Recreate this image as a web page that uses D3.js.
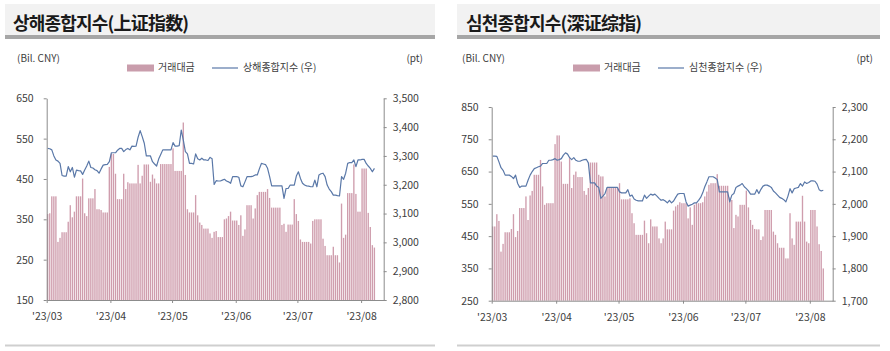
<!DOCTYPE html>
<html>
<head>
<meta charset="utf-8">
<script src="https://cdn.jsdelivr.net/npm/d3@7"></script>
<style>
    body { margin: 0; background: #fff; }
    svg text { font-family: "Noto Sans CJK KR", "Noto Sans", sans-serif; fill: #404040; }
</style>
</head>
<body>
<svg id="chart" width="890" height="351"></svg>
<script>
// daily series from 2023-03-01 (calendar days, non-trading days carry the previous value)
var startDate = new Date(Date.UTC(2023, 2, 1));
var endDate = new Date(Date.UTC(2023, 7, 12));
var monthTicks = [
    new Date(Date.UTC(2023, 2, 1)), new Date(Date.UTC(2023, 3, 1)), new Date(Date.UTC(2023, 4, 1)),
    new Date(Date.UTC(2023, 5, 1)), new Date(Date.UTC(2023, 6, 1)), new Date(Date.UTC(2023, 7, 1))
];

// Shanghai turnover (Bil. CNY)
var shVolume = [
    363, 365, 407, 407, 407, 294, 304, 318, 318, 318,
    344, 385, 355, 369, 407, 407, 407, 451, 365, 358,
    402, 402, 402, 425, 375, 375, 373, 367, 367, 367,
    480, 512, 512, 463, 400, 400, 400, 463, 425, 442,
    439, 439, 439, 439, 485, 439, 458, 486, 486, 486,
    443, 461, 451, 439, 439, 487, 487, 487, 487, 487,
    487, 526, 470, 470, 470, 470, 590, 460, 375, 367,
    367, 367, 410, 360, 342, 336, 327, 327, 327, 315,
    304, 319, 321, 306, 306, 306, 350, 352, 358, 369,
    347, 347, 347, 336, 360, 309, 325, 385, 385, 385,
    352, 377, 410, 418, 418, 418, 418, 425, 403, 379,
    379, 379, 379, 379, 336, 339, 319, 337, 337, 337,
    400, 363, 346, 300, 294, 294, 294, 294, 290, 346,
    350, 350, 350, 350, 302, 284, 261, 261, 261, 282,
    261, 261, 243, 389, 304, 312, 415, 415, 415, 486,
    413, 369, 369, 476, 476, 476, 366, 331, 286, 280
];
// Shanghai composite (pt)
var shIndex = [
    3326, 3325, 3321, 3300, 3286, 3282, 3274, 3232, 3230, 3230,
    3263, 3245, 3260, 3226, 3251, 3249, 3248, 3236, 3251, 3265,
    3282, 3260, 3258, 3252, 3249, 3240, 3255, 3268, 3270, 3271,
    3280, 3311, 3311, 3311, 3320, 3326, 3326, 3315, 3322, 3326,
    3321, 3334, 3333, 3334, 3365, 3388, 3367, 3344, 3300, 3300,
    3300, 3280, 3272, 3265, 3289, 3305, 3321, 3321, 3321, 3321,
    3321, 3346, 3334, 3334, 3336, 3390, 3355, 3315, 3307, 3274,
    3274, 3272, 3307, 3290, 3286, 3292, 3286, 3286, 3284, 3295,
    3290, 3201, 3214, 3213, 3213, 3216, 3219, 3213, 3210, 3205,
    3228, 3228, 3228, 3226, 3196, 3193, 3210, 3228, 3228, 3228,
    3230, 3234, 3234, 3255, 3274, 3272, 3270, 3257, 3228, 3196,
    3196, 3196, 3196, 3196, 3196, 3153, 3187, 3187, 3199, 3199,
    3199, 3230, 3245, 3222, 3205, 3199, 3196, 3195, 3193, 3193,
    3216, 3193, 3234, 3238, 3240, 3228, 3199, 3185, 3176, 3164,
    3164, 3162, 3161, 3228, 3219, 3240, 3274, 3277, 3277, 3286,
    3263, 3286, 3286, 3288, 3288, 3274, 3265, 3257, 3245, 3257
];
// Shenzhen turnover (Bil. CNY)
var szVolume = [
    480, 480, 518, 497, 402, 426, 462, 462, 462, 472,
    518, 447, 466, 537, 537, 537, 573, 500, 576, 590,
    640, 640, 640, 686, 604, 547, 552, 552, 552, 552,
    735, 762, 762, 681, 612, 612, 612, 692, 599, 640,
    650, 633, 633, 633, 590, 578, 599, 678, 678, 678,
    678, 640, 635, 635, 573, 599, 599, 599, 599, 599,
    599, 614, 564, 564, 564, 564, 567, 521, 490, 454,
    454, 454, 454, 498, 459, 428, 502, 480, 480, 480,
    443, 428, 443, 495, 471, 471, 471, 529, 542, 547,
    555, 552, 552, 552, 505, 539, 485, 547, 552, 552,
    552, 555, 573, 588, 609, 614, 614, 614, 642, 606,
    606, 606, 606, 606, 570, 562, 475, 516, 511, 547,
    547, 547, 591, 539, 500, 485, 472, 471, 471, 438,
    449, 531, 531, 531, 531, 464, 454, 428, 414, 414,
    414, 381, 381, 521, 443, 423, 495, 495, 495, 575,
    495, 433, 428, 531, 531, 531, 480, 425, 404, 350
];
// Shenzhen composite (pt)
var szIndex = [
    2148, 2148, 2147, 2130, 2112, 2104, 2089, 2089, 2089, 2085,
    2078, 2089, 2063, 2051, 2055, 2055, 2055, 2073, 2089, 2100,
    2109, 2112, 2115, 2117, 2125, 2125, 2125, 2135, 2135, 2137,
    2140, 2135, 2137, 2140, 2151, 2158, 2154, 2143, 2137, 2143,
    2135, 2132, 2132, 2135, 2137, 2138, 2127, 2065, 2065, 2065,
    2055, 2051, 2017, 2024, 2032, 2051, 2051, 2051, 2051, 2051,
    2051, 2037, 2034, 2034, 2034, 2044, 2024, 2027, 2015, 2011,
    2009, 2009, 2009, 2027, 2017, 2024, 2030, 2027, 2030, 2024,
    2017, 2011, 2013, 2009, 2003, 2011, 2003, 2009, 2020, 2030,
    2032, 2032, 2032, 2006, 1993, 1996, 1999, 2003, 2003, 2011,
    2020, 2034, 2053, 2068, 2084, 2084, 2084, 2080, 2075, 2037,
    2037, 2037, 2037, 2037, 2006, 2027, 2032, 2051, 2055, 2058,
    2063, 2053, 2047, 2040, 2030, 2030, 2030, 2044, 2032, 2045,
    2055, 2058, 2058, 2055, 2051, 2040, 2034, 2027, 2020, 2017,
    2013, 2006, 2024, 2047, 2034, 2047, 2049, 2051, 2063, 2055,
    2068, 2063, 2066, 2071, 2071, 2070, 2061, 2044, 2040, 2042
];

var shVolumeTicks = [150, 250, 350, 450, 550, 650];
var shIndexTicks = [2800, 2900, 3000, 3100, 3200, 3300, 3400, 3500];
var szVolumeTicks = [250, 350, 450, 550, 650, 750, 850];
var szIndexTicks = [1700, 1800, 1900, 2000, 2100, 2200, 2300];

var barColor = "#cf9dad",
    legendBarColor = "#c99dac",
    lineColor = "#5a78a8",
    axisColor = "#8c8c8c";

var svg = d3.select("#chart");
svg.append("rect").attr("width", 890).attr("height", 351).attr("fill", "#fff");

function drawPanel(cfg) {
    var g = svg.append("g");

    // header band with title
    g.append("rect")
        .attr("x", cfg.bandX0).attr("y", 4)
        .attr("width", cfg.bandX1 - cfg.bandX0).attr("height", 31)
        .attr("fill", "#f2f2f2");
    g.append("rect")
        .attr("x", cfg.bandX0).attr("y", 35)
        .attr("width", cfg.bandX1 - cfg.bandX0).attr("height", 4)
        .attr("fill", "#a6a6a6");
    g.append("text")
        .attr("x", cfg.titleX).attr("y", 30)
        .attr("font-size", "18px").attr("font-weight", "bold")
        .attr("letter-spacing", "-0.8px")
        .style("fill", "#1a1a1a")
        .text(cfg.title);

    // bottom rule
    g.append("rect")
        .attr("x", cfg.bandX0).attr("y", 344.5)
        .attr("width", cfg.bandX1 - cfg.bandX0).attr("height", 2)
        .attr("fill", "#cfcfcf");

    // units
    g.append("text").attr("x", cfg.unitLeftX).attr("y", 59)
        .attr("font-size", "10px").attr("dominant-baseline", "middle")
        .text("(Bil. CNY)");
    g.append("text").attr("x", cfg.unitRightX).attr("y", 59)
        .attr("font-size", "10px").attr("dominant-baseline", "middle")
        .attr("text-anchor", "end")
        .text("(pt)");

    // legend
    g.append("rect")
        .attr("x", cfg.legendX).attr("y", 64.5)
        .attr("width", 27).attr("height", 7)
        .attr("fill", legendBarColor);
    g.append("text").attr("x", cfg.legendX + 31).attr("y", 68.5)
        .attr("font-size", "10px").attr("dominant-baseline", "middle")
        .text("거래대금");
    g.append("line")
        .attr("x1", cfg.legendX + 85).attr("x2", cfg.legendX + 111)
        .attr("y1", 68).attr("y2", 68)
        .attr("stroke", lineColor).attr("stroke-width", 1.2);
    g.append("text").attr("x", cfg.legendX + 116).attr("y", 68.5)
        .attr("font-size", "10px").attr("dominant-baseline", "middle")
        .text(cfg.lineName);

    var x = d3.scaleUtc().domain([startDate, endDate]).range([cfg.left, cfg.right]);
    var y0 = d3.scaleLinear().domain(d3.extent(cfg.volumeTicks)).range([cfg.bottom, cfg.top]);
    var y1 = d3.scaleLinear().domain(d3.extent(cfg.indexTicks)).range([cfg.bottom, cfg.top]);

    var dates = cfg.volume.map(function (d, i) { return d3.utcDay.offset(startDate, i); });

    // turnover bars
    g.append("g").selectAll("rect")
        .data(cfg.volume)
        .enter().append("rect")
        .attr("x", function (d, i) { return x(dates[i]) + 0.3; })
        .attr("y", function (d) { return y0(d); })
        .attr("width", 1.35)
        .attr("height", function (d) { return y0.range()[0] - y0(d); })
        .attr("fill", barColor);

    // index line
    var line = d3.line()
        .x(function (d, i) { return x(dates[i]) + 1; })
        .y(function (d) { return y1(d); });
    g.append("path")
        .datum(cfg.index)
        .attr("d", line)
        .attr("fill", "none")
        .attr("stroke", lineColor)
        .attr("stroke-width", 1.2)
        .attr("stroke-linejoin", "round");

    // axes
    var axisLeft = g.append("g")
        .attr("transform", "translate(" + cfg.left + ",0)")
        .call(d3.axisLeft(y0).tickValues(cfg.volumeTicks).tickSize(3).tickSizeOuter(0).tickPadding(10).tickFormat(d3.format("d")));
    var axisRight = g.append("g")
        .attr("transform", "translate(" + cfg.right + ",0)")
        .call(d3.axisRight(y1).tickValues(cfg.indexTicks).tickSize(3).tickSizeOuter(0).tickPadding(6).tickFormat(d3.format(",")));
    var axisBottom = g.append("g")
        .attr("transform", "translate(0," + cfg.bottom + ")")
        .call(d3.axisBottom(x).tickValues(monthTicks).tickSize(3).tickSizeOuter(0).tickPadding(10).tickFormat(d3.utcFormat("'%y/%m")));

    [axisLeft, axisRight, axisBottom].forEach(function (a) {
        a.selectAll(".domain, line").attr("stroke", axisColor);
        a.selectAll("text")
            .attr("font-size", "10.5px")
            .style("font-family", "\"Noto Sans CJK KR\", sans-serif")
            .style("fill", "#404040");
    });
}

drawPanel({
    title: "상해종합지수(上证指数)",
    lineName: "상해종합지수 (우)",
    bandX0: 5, bandX1: 435, titleX: 13,
    unitLeftX: 17, unitRightX: 423, legendX: 127,
    left: 46.7, right: 383.7, top: 98.3, bottom: 300,
    volume: shVolume, index: shIndex,
    volumeTicks: shVolumeTicks, indexTicks: shIndexTicks
});

drawPanel({
    title: "심천종합지수(深证综指)",
    lineName: "심천종합지수 (우)",
    bandX0: 457, bandX1: 880, titleX: 466,
    unitLeftX: 462, unitRightX: 873, legendX: 573,
    left: 491.7, right: 832.7, top: 107, bottom: 300.7,
    volume: szVolume, index: szIndex,
    volumeTicks: szVolumeTicks, indexTicks: szIndexTicks
});
</script>
</body>
</html>
